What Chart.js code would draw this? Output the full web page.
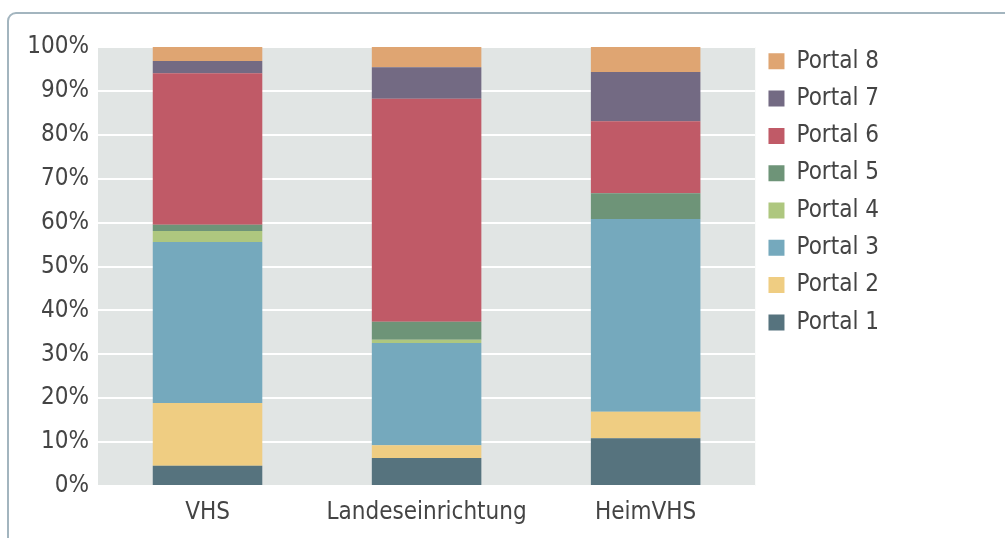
<!DOCTYPE html>
<html>
<head>
<meta charset="utf-8">
<script src="https://cdn.jsdelivr.net/npm/chart.js@4"></script>
<style>
  html, body { margin: 0; padding: 0; background: #fff; overflow: hidden; }
  #frame {
    position: absolute; left: 7px; top: 12px; width: 1040px; height: 600px;
    border: 2px solid #a3b5bf; border-radius: 9px; box-sizing: border-box;
  }
  #wrap { position: absolute; left: 0; top: 0; width: 1005px; height: 538px; }
</style>
</head>
<body>
<div id="frame"></div>
<div id="wrap"><canvas id="myChart" width="1005" height="538"></canvas></div>
<script>
// Share of each portal per institution type (percent)
const categories = ["VHS", "Landeseinrichtung", "HeimVHS"];
const portal1 = [4.6, 6.4, 10.9];
const portal2 = [14.3, 2.9, 6.0];
const portal3 = [36.7, 23.3, 43.9];
const portal4 = [2.5, 0.7, 0];
const portal5 = [1.4, 4.1, 5.9];
const portal6 = [34.5, 50.8, 16.4];
const portal7 = [2.8, 7.2, 11.2];
const portal8 = [3.2, 4.6, 5.7];
const yTicks = [0, 10, 20, 30, 40, 50, 60, 70, 80, 90, 100];

const seriesNames = ["Portal 1", "Portal 2", "Portal 3", "Portal 4", "Portal 5", "Portal 6", "Portal 7", "Portal 8"];
const seriesValues = [portal1, portal2, portal3, portal4, portal5, portal6, portal7, portal8];
const seriesColors = ["#56737e", "#efcd82", "#75a9bd", "#aec77f", "#6e9478", "#c05a67", "#736a83", "#dfa572"];

const fontFamily = "'DejaVu Sans Condensed', 'Liberation Sans', sans-serif";
const textColor = "#444444";

// gray plot background behind the bars
const plotBackground = {
  id: "plotBackground",
  beforeDraw(chart) {
    const { ctx, chartArea } = chart;
    ctx.save();
    ctx.fillStyle = "#e1e5e4";
    ctx.fillRect(chartArea.left, chartArea.top, chartArea.right - chartArea.left, chartArea.bottom - chartArea.top);
    ctx.restore();
  },
};

var ctx = document.getElementById("myChart").getContext("2d");

var barChartData = {
  labels: categories,
  datasets: seriesNames.map((name, i) => ({
    label: name,
    data: seriesValues[i],
    backgroundColor: seriesColors[i],
    borderWidth: 0,
    barPercentage: 0.5,
    categoryPercentage: 1.0,
  })),
};

var myChart = new Chart(ctx, {
  type: "bar",
  data: barChartData,
  plugins: [plotBackground],
  options: {
    responsive: false,
    animation: false,
    layout: { padding: { top: 36, right: 116, bottom: 12, left: 0 } },
    plugins: {
      tooltip: { enabled: false },
      legend: {
        position: "right",
        align: "start",
        reverse: true,
        labels: {
          boxWidth: 16,
          boxHeight: 16,
          padding: 13.3,
          color: textColor,
          font: { family: fontFamily, size: 24 },
        },
      },
    },
    scales: {
      x: {
        stacked: true,
        grid: { display: false },
        border: { display: false },
        ticks: {
          color: textColor,
          padding: 4,
          maxRotation: 0,
          autoSkip: false,
          font: { family: fontFamily, size: 24 },
        },
        afterFit(scale) { scale.height = 40; },
      },
      y: {
        stacked: true,
        min: 0,
        max: 100,
        afterBuildTicks(scale) { scale.ticks = yTicks.map((v) => ({ value: v })); },
        grid: { color: "#ffffff", lineWidth: 2, drawTicks: false },
        border: { display: false },
        ticks: {
          color: textColor,
          padding: 9,
          font: { family: fontFamily, size: 24 },
          callback: (v) => v + "%",
        },
        afterFit(scale) {
          scale.width = 98;
          scale.paddingTop = 47;
        },
      },
    },
  },
});
</script>
</body>
</html>
